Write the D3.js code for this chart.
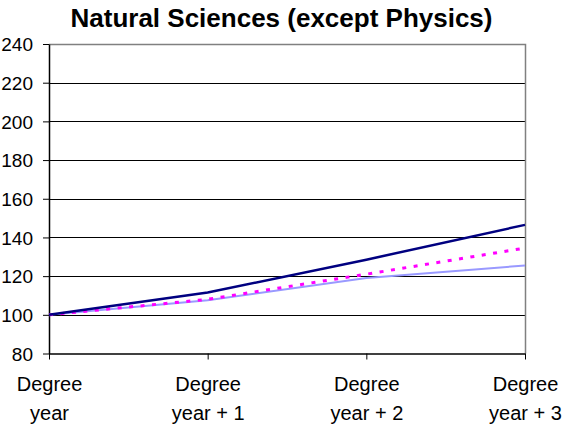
<!DOCTYPE html>
<html>
<head>
<meta charset="utf-8">
<script src="https://cdn.jsdelivr.net/npm/d3@7"></script>
<style>
  body { margin: 0; background: #fff; }
  text { font-family: "Liberation Sans", Arial, sans-serif; }
</style>
</head>
<body>
<svg width="577" height="428"></svg>
<script>
const categories = ['Degree|year', 'Degree|year + 1', 'Degree|year + 2', 'Degree|year + 3'];
const yTicks = [80, 100, 120, 140, 160, 180, 200, 220, 240];
const seriesNavy = [100, 111.5, 128.5, 146.5];
const seriesPink = [100, 108, 121, 134.5];
const seriesLight = [100, 107.5, 119, 125.5];

const svg = d3.select('svg');
const plotL = 49, plotR = 525, plotT = 44, plotB = 353.5;

const x = d3.scalePoint().domain(categories).range([plotL, plotR]);
const y = d3.scaleLinear().domain([80, 240]).range([plotB, plotT]);

svg.append('text')
   .attr('x', 281.5).attr('y', 27)
   .attr('text-anchor', 'middle')
   .style('font-size', '26px').style('font-weight', 'bold')
   .text('Natural Sciences (except Physics)');

// gridlines
svg.append('g')
   .selectAll('line')
   .data(yTicks.filter(d => d != 80 && d != 240))
   .enter()
   .append('line')
   .attr('x1', plotL).attr('x2', plotR)
   .attr('y1', d => Math.round(y(d)) + 0.5).attr('y2', d => Math.round(y(d)) + 0.5)
   .attr('stroke', '#000').attr('stroke-width', 1);

// plot border top / right
svg.append('path')
   .attr('d', `M${plotL},${Math.round(plotT) + 0.5}H${plotR + 0.5}V${plotB}`)
   .attr('fill', 'none').attr('stroke', '#808080').attr('stroke-width', 1.5);

// y axis
const yAxis = svg.append('g')
   .attr('transform', `translate(${plotL},0)`)
   .call(d3.axisLeft(y).tickValues(yTicks).tickSize(6).tickPadding(10).tickSizeOuter(0));
yAxis.select('.domain').attr('stroke', '#000').attr('stroke-width', 1.5);
yAxis.selectAll('.tick line').attr('stroke', '#000');
yAxis.selectAll('.tick text').style('font-size', '19px').attr('fill', '#000').attr('dy', '0.35em');

// x axis
const xAxis = svg.append('g')
   .attr('transform', `translate(0,${plotB})`)
   .call(d3.axisBottom(x).tickSize(6).tickSizeOuter(0));
xAxis.select('.domain').attr('stroke', '#000').attr('stroke-width', 1.5);
xAxis.selectAll('.tick line').attr('stroke', '#000');
xAxis.selectAll('.tick text').remove();
xAxis.selectAll('.tick')
   .append('text')
   .attr('text-anchor', 'middle')
   .attr('fill', '#000')
   .style('font-size', '20px')
   .selectAll('tspan')
   .data(d => d.split('|'))
   .enter()
   .append('tspan')
   .attr('x', 0)
   .attr('y', (d, i) => 37 + i * 29)
   .text(d => d);

const line = d3.line().x((d, i) => x(categories[i])).y(d => y(d));

svg.append('path').datum(seriesLight)
   .attr('d', line).attr('fill', 'none')
   .attr('stroke', '#9999FF').attr('stroke-width', 2);
svg.append('path').datum(seriesPink)
   .attr('d', line).attr('fill', 'none')
   .attr('stroke', '#FF00FF').attr('stroke-width', 3)
   .attr('stroke-dasharray', '4,7.5');
svg.append('path').datum(seriesNavy)
   .attr('d', line).attr('fill', 'none')
   .attr('stroke', '#000080').attr('stroke-width', 2.5);
</script>
</body>
</html>
